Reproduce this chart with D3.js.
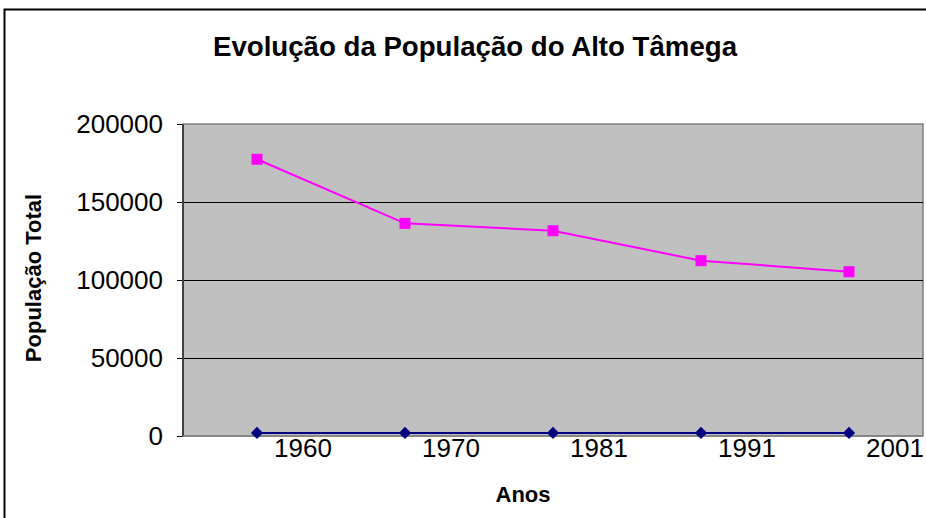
<!DOCTYPE html>
<html>
<head>
<meta charset="utf-8">
<script src="https://cdn.jsdelivr.net/npm/d3@7/dist/d3.min.js"></script>
<style>
  html, body { margin: 0; padding: 0; background: #fff; }
  svg { display: block; font-family: Arial, "Liberation Sans", sans-serif; }
</style>
</head>
<body>
<div id="chart"></div>
<script>
// Evolução da População do Alto Tâmega
const anos = ['1960', '1970', '1981', '1991', '2001'];
const populacao = [177400, 136300, 131600, 112400, 105300];
// the years themselves were also plotted as a series (the flat blue line near 0)
const serieAnos = [1960, 1970, 1981, 1991, 2001];
const yTicks = [0, 50000, 100000, 150000, 200000];

const width = 926, height = 518;
const plot = { left: 183, right: 923, top: 124, bottom: 436 };

const svg = d3.select('#chart')
    .append('svg')
    .attr('width', width)
    .attr('height', height);

// outer chart frame (right and bottom sides fall outside the picture)
svg.append('rect')
    .attr('x', 4.5).attr('y', 9.5)
    .attr('width', 930).attr('height', 520)
    .attr('fill', 'none')
    .attr('stroke', '#000')
    .attr('stroke-width', 2);

const x = d3.scaleBand()
    .domain(anos)
    .range([plot.left, plot.right]);

const y = d3.scaleLinear()
    .domain([0, 200000])
    .range([plot.bottom, plot.top]);

// plot area
svg.append('rect')
    .attr('x', plot.left).attr('y', plot.top)
    .attr('width', plot.right - plot.left)
    .attr('height', plot.bottom - plot.top)
    .attr('fill', '#c0c0c0')
    .attr('stroke', '#808080')
    .attr('stroke-width', 1.5);

// gridlines
svg.append('g')
    .selectAll('line')
    .data(yTicks.filter(d => d > 0 && d < 200000))
    .join('line')
    .attr('x1', plot.left).attr('x2', plot.right)
    .attr('y1', d => Math.round(y(d)) + 0.5)
    .attr('y2', d => Math.round(y(d)) + 0.5)
    .attr('stroke', '#000')
    .attr('stroke-width', 1);

// y axis
const yAxis = svg.append('g')
    .attr('transform', `translate(${plot.left},0)`)
    .call(d3.axisLeft(y).tickValues(yTicks).tickSize(6).tickPadding(14).tickFormat(d3.format('d')));
yAxis.select('.domain').remove();
yAxis.selectAll('.tick line').attr('stroke', '#000');
yAxis.selectAll('.tick text')
    .attr('font-size', 26)
    .attr('font-family', 'Arial, "Liberation Sans", sans-serif')
    .attr('fill', '#000');

svg.append('line')
    .attr('x1', plot.left).attr('x2', plot.left)
    .attr('y1', plot.top).attr('y2', plot.bottom + 1)
    .attr('stroke', '#404040')
    .attr('stroke-width', 2);

// x axis: labels sit to the right of each category point
const xAxis = svg.append('g')
    .attr('transform', `translate(0,${plot.bottom})`)
    .call(d3.axisBottom(x).tickSize(0).tickPadding(0));
xAxis.select('.domain').remove();
xAxis.selectAll('.tick text')
    .attr('x', 46)
    .attr('y', 21)
    .attr('dy', null)
    .attr('font-size', 26)
    .attr('font-family', 'Arial, "Liberation Sans", sans-serif')
    .attr('fill', '#000');

svg.append('line')
    .attr('x1', plot.left).attr('x2', plot.right)
    .attr('y1', plot.bottom).attr('y2', plot.bottom)
    .attr('stroke', '#808080')
    .attr('stroke-width', 1.5);

const cx = d => x(d) + x.bandwidth() / 2;

// Série 1: os anos (azul escuro)
svg.append('path')
    .datum(serieAnos)
    .attr('fill', 'none')
    .attr('stroke', '#000080')
    .attr('stroke-width', 2)
    .attr('d', d3.line().x((d, i) => cx(anos[i])).y(d => y(d)));

svg.append('g')
    .selectAll('path')
    .data(serieAnos)
    .join('path')
    .attr('d', d3.symbol(d3.symbolDiamond2, 95))
    .attr('transform', (d, i) => `translate(${cx(anos[i])},${y(d)})`)
    .attr('fill', '#000080');

// Série 2: população (magenta)
svg.append('path')
    .datum(populacao)
    .attr('fill', 'none')
    .attr('stroke', '#ff00ff')
    .attr('stroke-width', 2)
    .attr('d', d3.line().x((d, i) => cx(anos[i])).y(d => y(d)));

svg.append('g')
    .selectAll('rect')
    .data(populacao)
    .join('rect')
    .attr('x', (d, i) => cx(anos[i]) - 5.5)
    .attr('y', d => y(d) - 5.5)
    .attr('width', 11).attr('height', 11)
    .attr('fill', '#ff00ff');

// titles
svg.append('text')
    .attr('x', 475).attr('y', 56)
    .attr('text-anchor', 'middle')
    .attr('font-size', 27)
    .attr('font-weight', 'bold')
    .attr('textLength', 524)
    .attr('lengthAdjust', 'spacingAndGlyphs')
    .text('Evolução da População do Alto Tâmega');

svg.append('text')
    .attr('transform', 'translate(41,278) rotate(-90)')
    .attr('text-anchor', 'middle')
    .attr('font-size', 22)
    .attr('font-weight', 'bold')
    .text('População Total');

svg.append('text')
    .attr('x', 523).attr('y', 502)
    .attr('text-anchor', 'middle')
    .attr('font-size', 22)
    .attr('font-weight', 'bold')
    .text('Anos');
</script>
</body>
</html>
